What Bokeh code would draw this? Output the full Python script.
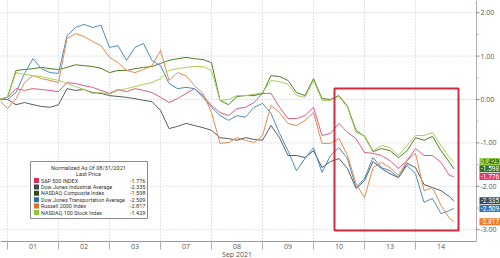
import numpy as np
from bokeh.plotting import figure
from bokeh.models import Range1d, BoxAnnotation
from bokeh.core.properties import value
from bokeh.embed import file_html
from bokeh.resources import INLINE

# ---------------- data ----------------
day_labels = ["01", "02", "03", "07", "08", "09", "10", "13", "14"]
month_label = "Sep 2021"
month_under = "08"
legend_title = ["Normalized As Of 08/31/2021", "Last Price"]
names = ["S&P 500 INDEX", "Dow Jones Industrial Average", "NASDAQ Composite Index",
         "Dow Jones Transportation Average", "Russell 2000 Index", "NASDAQ 100 Stock Index"]
last_values = [-1.776, -2.335, -1.598, -2.509, -2.817, -1.429]
y_ticks = [-3, -2, -1, 0, 1, 2]
y_minor_ticks = [-2.5, -1.5, -0.5, 0.5, 1.5]

# sampling times in trading-day units (0 = open of Sep 01)
days = np.append(np.arange(-1, 53) / 6, 8.75)

spx = [0.00, 0.05, 0.25, 0.21, 0.25, 0.23, 0.21, 0.18, 0.39, 0.37,
       0.32, 0.28, 0.21, 0.14, 0.23, 0.18, 0.25, 0.21, 0.16, 0.05,
       -0.07, 0.02, 0.14, 0.25, 0.09, -0.14, -0.30, -0.37, -0.21, -0.18,
       -0.07, 0.14, 0.14, -0.18, -0.44, -0.44, -0.37, -0.18, -0.83, -0.78,
       -0.55, -0.76, -0.90, -1.22, -1.24, -1.29, -1.41, -1.59, -1.41, -1.13,
       -1.29, -1.29, -1.45, -1.75, -1.776]
indu = [0.00, 0.00, -0.12, -0.07, -0.12, -0.16, -0.18, -0.12, 0.25, 0.21,
        0.23, 0.16, 0.14, 0.09, 0.07, 0.05, 0.02, -0.02, -0.05, -0.25,
        -0.67, -0.62, -0.55, -0.60, -0.65, -0.71, -0.88, -0.90, -0.94, -0.88,
        -0.92, -0.94, -0.60, -0.88, -1.29, -1.29, -1.34, -1.18, -1.57, -1.43,
        -1.36, -1.59, -2.05, -1.87, -1.43, -1.59, -1.71, -1.80, -1.47, -1.57,
        -1.96, -2.03, -2.10, -2.24, -2.335]
ccmp = [0.00, 0.05, 0.67, 0.69, 0.71, 0.74, 0.71, 0.69, 0.74, 0.80,
        0.78, 0.76, 0.72, 0.62, 0.67, 0.67, 0.71, 0.74, 0.76, 0.83,
        0.90, 0.94, 0.97, 0.94, 0.92, 0.85, -0.02, -0.12, 0.07, 0.09,
        0.09, 0.14, 0.55, 0.53, 0.44, 0.16, 0.09, 0.48, 0.02, 0.00,
        0.09, -0.16, -0.71, -0.85, -1.20, -1.13, -1.18, -1.34, -1.18, -0.88,
        -0.94, -0.85, -1.18, -1.45, -1.598]
tran = [0.00, 0.00, 0.16, 0.60, 0.94, 0.71, 0.62, 0.60, 1.47, 1.66,
        1.73, 1.66, 1.71, 1.20, 1.24, 0.90, 1.20, 1.29, 0.90, 0.78,
        0.37, 0.25, 0.28, 0.25, 0.05, -0.18, -0.37, -0.48, -0.37, -0.41,
        -0.18, -0.09, -0.32, -0.78, -1.18, -1.64, -1.36, -1.11, -1.68, -1.29,
        -1.11, -1.36, -2.03, -1.82, -1.34, -1.57, -1.64, -1.80, -1.52, -1.71,
        -2.37, -2.28, -2.63, -2.56, -2.509]
rty = [0.00, -0.21, 0.02, 0.39, 0.55, 0.48, 0.44, 0.39, 1.41, 1.52,
       1.45, 1.34, 1.24, 0.97, 0.85, 0.67, 0.62, 0.69, 0.78, 1.13,
       0.44, 0.62, 0.55, 0.32, 0.14, -0.30, -1.01, -0.99, -0.88, -0.94,
       -0.99, -0.83, -0.14, -0.30, -0.55, -0.60, -0.48, -0.30, -1.01, -1.01,
       -0.90, -1.29, -1.94, -2.26, -1.57, -1.45, -1.57, -1.75, -1.41, -1.24,
       -2.10, -2.03, -2.44, -2.74, -2.817]
ndx = [0.00, 0.05, 0.62, 0.58, 0.55, 0.53, 0.48, 0.44, 0.37, 0.30,
       0.23, 0.14, 0.16, 0.12, 0.21, 0.25, 0.30, 0.35, 0.39, 0.48,
       0.67, 0.71, 0.74, 0.76, 0.76, 0.67, -0.02, 0.00, 0.09, 0.09,
       0.12, 0.16, 0.44, 0.41, 0.35, 0.09, 0.05, 0.44, -0.02, -0.02,
       0.07, -0.18, -0.76, -0.83, -1.18, -1.06, -1.11, -1.29, -1.06, -0.83,
       -0.83, -0.76, -1.06, -1.34, -1.429]
series = [spx, indu, ccmp, tran, rty, ndx]

# ---------------- style ----------------
line_colors = ["#dc5a8a", "#555d64", "#4a8026", "#4d8cc0", "#e68a4a", "#a8d058"]
swatch_colors = ["#dd2a55", "#3d4850", "#2d4f12", "#2b6e9c", "#e46c25", "#8cc43c"]
tag_colors = ["#e43a6c", "#3b464d", "#3b6f1c", "#2f78b4", "#f07c2a", "#8fcb45"]
tag_text = ["white", "white", "white", "white", "white", "#1b2a10"]
FONT = "Open Sans"
LFONT = "Roboto"
GRID = "#c4c4c4"

# pixel -> data helpers for annotation placement
def X(px):
    return (px - 7) / 51.0

def Y(py):
    return (99 - py) / 43.4

AX = X(476)      # value axis position
BASE = Y(241)    # time axis position

p = figure(width=500, height=258, output_backend="svg", toolbar_location=None,
           x_range=Range1d(X(0), X(500)), y_range=Range1d(Y(258), Y(0)),
           x_axis_location=None, y_axis_location=None,
           min_border_left=0, min_border_top=0, min_border_right=0, min_border_bottom=0)
p.outline_line_color = None
p.background_fill_color = "white"
p.xgrid.visible = False
p.ygrid.visible = False

nb = len(day_labels)
bounds = list(range(nb))
centers = [i + 0.5 for i in range(nb)]

# grid lines
p.segment(x0=[X(0)] * len(y_ticks), y0=y_ticks, x1=[AX] * len(y_ticks), y1=y_ticks,
          line_color=GRID, line_dash="1 2", line_width=1)
p.segment(x0=bounds, y0=[BASE] * nb, x1=bounds, y1=[Y(0)] * nb,
          line_color=GRID, line_dash="1 2", line_width=1)

# series lines
for s, c in zip(series, line_colors):
    p.line(days, s, line_color=c, line_width=1)

# time axis
p.segment(x0=[X(0)], y0=[BASE], x1=[AX], y1=[BASE], line_color="#9a9a9a", line_width=1)
p.segment(x0=bounds, y0=[BASE] * nb, x1=bounds, y1=[Y(249)] * nb,
          line_color="#b0b0b0", line_width=1)
p.text(x=centers, y=[Y(246)] * nb, text=day_labels,
       text_font=value(FONT), text_font_size="7px", text_color="#555555",
       text_align="center", text_baseline="middle")
p.text(x=[centers[day_labels.index(month_under)]], y=[Y(254)], text=[month_label],
       text_font=value(FONT), text_font_size="7px", text_color="#555555",
       text_align="center", text_baseline="middle")

# value axis
p.segment(x0=[AX], y0=[BASE], x1=[AX], y1=[Y(0)], line_color="#b8a8b8", line_width=1)
p.segment(x0=[AX] * len(y_ticks), y0=y_ticks, x1=[X(479)] * len(y_ticks), y1=y_ticks,
          line_color="#888888", line_width=1)
p.segment(x0=[AX] * len(y_minor_ticks), y0=y_minor_ticks,
          x1=[X(478)] * len(y_minor_ticks), y1=y_minor_ticks,
          line_color="#aaaaaa", line_width=1)
p.text(x=[X(480)] * len(y_ticks), y=y_ticks, text=["%.2f" % t for t in y_ticks],
       text_font=value(FONT), text_font_size="7px", text_color="#555555",
       text_align="left", text_baseline="middle")

# highlight box
p.add_layout(BoxAnnotation(left=X(334), right=X(458), top=Y(88), bottom=Y(230),
                           fill_color=None, line_color="#d22b40", line_alpha=1.0,
                           line_width=2))

# legend box
p.quad(left=[X(30)], right=[X(147)], top=[Y(161)], bottom=[Y(218)],
       fill_color="white", line_color="#8a8a8a", line_width=1)
p.text(x=[X(88), X(88)], y=[Y(167), Y(173.5)], text=legend_title,
       text_font=value(LFONT), text_font_size="5.6px", text_color="#333333",
       text_align="center", text_baseline="middle")
ent_y = [Y(180 + 6.4 * i) for i in range(len(names))]
p.scatter(x=[X(36)] * len(names), y=ent_y, marker="square", size=5,
          fill_color=swatch_colors, line_color=None)
p.text(x=[X(40.5)] * len(names), y=ent_y, text=names,
       text_font=value(LFONT), text_font_size="5.4px", text_color="#333333",
       text_align="left", text_baseline="middle")
p.text(x=[X(145)] * len(names), y=ent_y, text=["%.3f" % v for v in last_values],
       text_font=value(LFONT), text_font_size="5.6px", text_color="#333333",
       text_align="right", text_baseline="middle")

# right-edge last value tags
n = len(last_values)
p.rect(x=[X(490)] * n, y=last_values, width=22, height=7,
       width_units="screen", height_units="screen",
       fill_color=tag_colors, line_color=None)
p.text(x=[X(480.5)] * n, y=last_values, text=["%.3f" % v for v in last_values],
       text_font=value(LFONT), text_font_size="6.5px", text_color=tag_text,
       text_align="left", text_baseline="middle")

open("out.html", "w").write(file_html(p, INLINE))
